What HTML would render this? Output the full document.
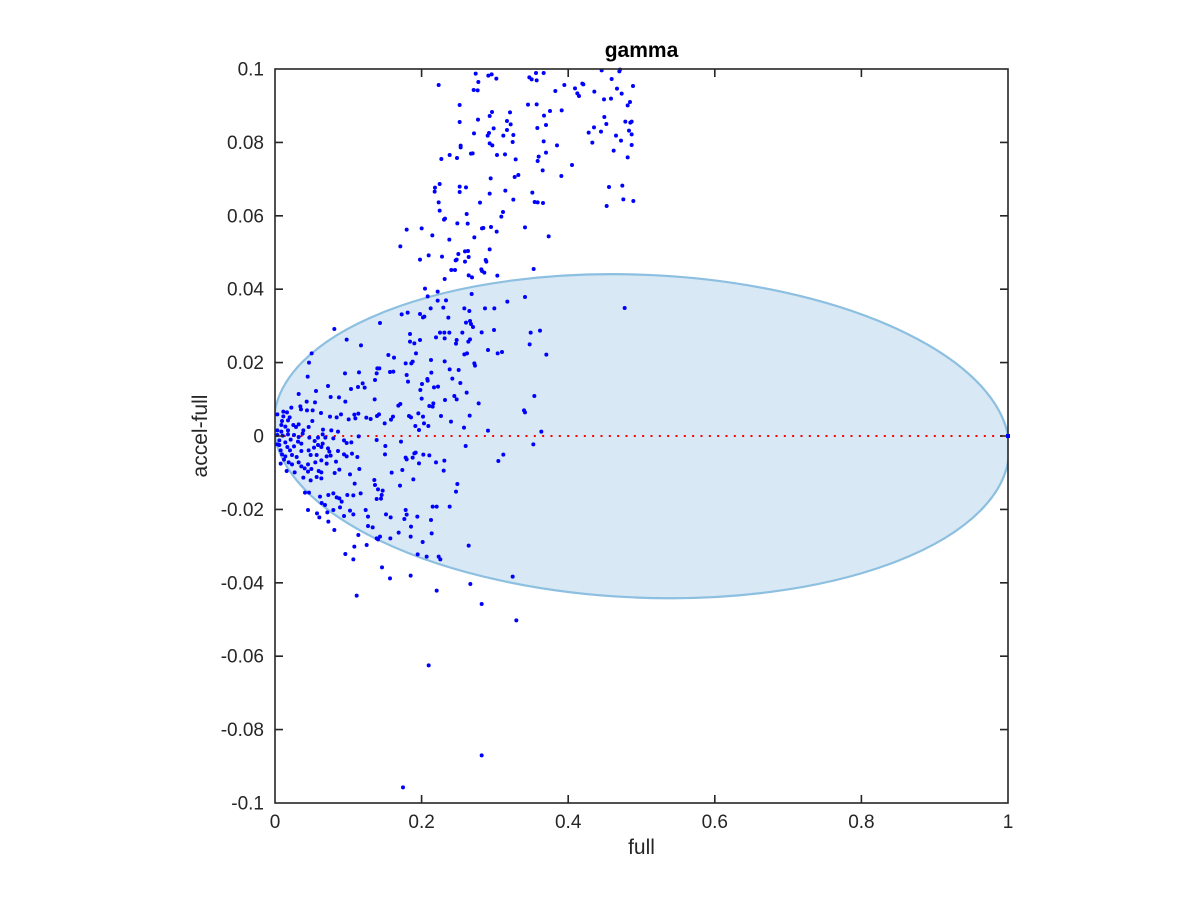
<!DOCTYPE html>
<html><head><meta charset="utf-8"><style>
html,body{margin:0;padding:0;background:#fff;}
svg{display:block;}
text{font-family:"Liberation Sans",Arial,sans-serif;fill:#262626;}
</style></head><body>
<svg width="1200" height="900" viewBox="0 0 1200 900" xmlns="http://www.w3.org/2000/svg">
<defs><clipPath id="ax"><rect x="275" y="69" width="733" height="734"/></clipPath></defs>
<rect width="1200" height="900" fill="#fff"/>
<g clip-path="url(#ax)">
<ellipse cx="641.5" cy="436.2" rx="368" ry="161.4" transform="rotate(2.46 641.5 436.2)" fill="#d8e8f4" stroke="#8cbfe0" stroke-width="2.2"/>
<line x1="275.5" y1="436" x2="1008" y2="436" stroke="#ff0000" stroke-width="2" stroke-dasharray="2 6.333"/>
</g>
<g fill="none" stroke="#0000ff" stroke-width="12" stroke-linecap="round">
<path transform="translate(240,40) scale(0.33333)" d="M596 135h0M707 101h0M715 126h0M745 107h0M755 103h0M769 116h0M868 112h0M875 118h0M890 121h0M888 99h0M911 99h0M1085 91h0M1138 94h0M1140 89h0M1115 117h0M1131 146h0M1145 161h0M1179 138h0M1063 155h0M1030 133h0M1027 131h0M1005 145h0M1012 160h0M1017 168h0M973 135h0M946 153h0M701 150h0M713 151h0M659 195h0M1092 178h0M1113 176h0M1170 186h0M1163 196h0M864 194h0M890 193h0M930 213h0M912 227h0M918 255h0M892 264h0M965 211h0M756 216h0M749 228h0M810 217h0M801 243h0M812 253h0M761 265h0M747 279h0M743 287h0M714 239h0M659 246h0M702 280h0M820 285h0M801 270h0M818 306h0M790 287h0M749 310h0M757 316h0M911 304h0M951 316h0M918 338h0M896 350h0M893 363h0M771 345h0M795 343h0M827 358h0M693 341h0M698 340h0M629 345h0M651 354h0M604 357h0M662 317h0M662 322h0M1093 231h0M1099 252h0M1156 245h0M1175 245h0M1171 248h0M1175 283h0M1167 272h0M1046 278h0M1083 275h0M1062 262h0M1128 287h0M1143 302h0M1057 308h0M1175 315h0M1121 332h0M1163 352h0M996 375h0M908 391h0M964 408h0M824 411h0M835 405h0M752 415h0M659 440h0M678 442h0M599 432h0M585 443h0M584 455h0M596 487h0M599 512h0M615 536h0M612 539h0M659 456h0M720 488h0M749 461h0M796 452h0M820 479h0M877 458h0M884 486h0M893 487h0M909 489h0M1107 441h0M1147 437h0M1100 498h0M1150 478h0M1180 483h0M680 522h0M683 551h0M652 550h0M628 599h0M726 565h0M730 564h0M753 561h0M784 530h0M789 516h0M770 575h0M703 592h0M855 562h0M926 589h0M500 569h0M545 565h0M577 586h0M481 619h0M540 659h0M566 646h0M606 650h0M655 642h0M650 659h0M647 661h0M675 634h0M684 633h0M686 651h0M675 665h0M737 660h0M739 665h0M749 628h0M724 688h0M726 693h0M733 698h0M614 717h0M634 690h0M645 690h0M686 706h0M696 712h0M772 707h0M881 687h0M555 746h0M563 769h0M593 755h0M695 762h0M855 771h0"/>
<path transform="translate(240,260) scale(0.33333)" d="M593 122h0M618 121h0M572 145h0M610 143h0M540 162h0M553 170h0M549 172h0M485 163h0M503 158h0M625 173h0M673 145h0M688 153h0M735 145h0M763 145h0M802 125h0M420 189h0M690 183h0M693 192h0M699 201h0M678 188h0M725 217h0M600 218h0M613 218h0M628 218h0M510 222h0M588 232h0M614 235h0M650 240h0M648 251h0M667 218h0M690 238h0M685 245h0M283 207h0M320 239h0M363 256h0M510 245h0M523 250h0M540 240h0M528 280h0M445 285h0M462 293h0M573 300h0M614 304h0M673 283h0M681 280h0M703 310h0M705 317h0M744 270h0M773 280h0M786 276h0M762 210h0M872 218h0M869 253h0M883 408h0M852 451h0M855 457h0M215 280h0M207 308h0M203 350h0M497 310h0M514 310h0M518 305h0M500 345h0M504 365h0M412 325h0M418 325h0M450 336h0M405 360h0M410 340h0M357 337h0M315 340h0M368 370h0M460 335h0M546 372h0M562 357h0M563 362h0M574 338h0M582 382h0M594 380h0M541 390h0M545 416h0M580 430h0M578 440h0M568 438h0M615 420h0M637 356h0M643 408h0M650 418h0M656 330h0M661 369h0M629 328h0M680 398h0M689 467h0M744 512h0M716 430h0M535 460h0M507 468h0M513 472h0M549 470h0M552 490h0M565 498h0M475 437h0M481 432h0M459 470h0M453 479h0M434 490h0M417 463h0M404 418h0M411 468h0M633 485h0M603 468h0M526 498h0M537 510h0M672 503h0M392 477h0"/>
<path transform="translate(240,420) scale(0.33333)" d="M410 60h0M436 78h0M435 103h0M483 65h0M497 113h0M500 118h0M523 100h0M527 98h0M518 113h0M537 130h0M550 104h0M568 106h0M588 127h0M611 152h0M613 122h0M677 78h0M652 192h0M648 215h0M775 123h0M790 104h0M880 73h0M403 180h0M405 195h0M414 208h0M428 212h0M425 225h0M410 237h0M423 236h0M455 158h0M480 197h0M487 150h0M520 178h0M497 270h0M500 284h0M493 297h0M513 320h0M532 290h0M548 366h0M573 300h0M575 340h0M578 260h0M590 260h0M629 260h0M438 283h0M452 292h0M476 338h0M512 350h0M451 355h0M420 350h0M414 358h0M384 290h0M384 318h0M398 322h0M410 355h0M380 375h0M355 345h0M343 380h0M426 442h0M450 475h0M512 467h0M533 403h0M560 410h0M596 410h0M601 418h0M686 377h0M691 492h0M818 470h0M590 512h0M350 527h0M340 418h0M316 402h0M195 218h0M207 218h0M204 270h0M238 292h0M231 280h0M265 305h0M283 330h0M262 277h0M245 249h0M255 255h0M280 270h0M300 262h0M312 288h0M330 272h0M340 283h0M322 225h0M280 220h0M265 225h0M290 232h0M298 235h0M240 230h0M305 245h0M340 226h0M362 220h0M377 270h0"/>
<path transform="translate(268,385) scale(0.33333)" d="M180 3h0M249 12h0M270 6h0M290 8h0M144 18h0M92 27h0M188 36h0M213 37h0M116 50h0M141 52h0M232 50h0M70 68h0M97 64h0M99 73h0M117 76h0M134 76h0M159 84h0M186 95h0M206 97h0M219 88h0M242 103h0M259 89h0M271 86h0M262 100h0M295 98h0M46 80h0M57 82h0M28 88h0M46 94h0M65 97h0M60 106h0M42 108h0M133 108h0M92 118h0M40 120h0M52 125h0M76 120h0M84 126h0M106 136h0M104 146h0M122 126h0M165 134h0M190 136h0M210 140h0M28 136h0M40 140h0M60 136h0M28 150h0M44 152h0M60 148h0M78 150h0M92 156h0M124 158h0M150 158h0M164 148h0M172 158h0M196 160h0M228 166h0M250 172h0M272 154h0M34 166h0M52 172h0M68 164h0M90 170h0M100 176h0M140 168h0M150 180h0M160 186h0M138 188h0M164 176h0M180 190h0M184 200h0M210 198h0M236 174h0M38 196h0M58 186h0M66 196h0M78 184h0M42 208h0M52 214h0M72 210h0M86 216h0M100 198h0M122 196h0M128 210h0M146 210h0M176 214h0M188 212h0M228 208h0M236 214h0M252 206h0M268 216h0M48 224h0M62 232h0M72 238h0M92 232h0M100 244h0M120 238h0M142 232h0M160 226h0M176 236h0M204 230h0M214 254h0M38 236h0M56 258h0M80 262h0M110 250h0M130 252h0M120 260h0M152 258h0M160 262h0M200 264h0M246 268h0M274 252h0M106 278h0M146 276h0M128 286h0M160 280h0M260 296h0M28 178h0M34 180h0"/>
<path transform="translate(530,280) scale(0.33333)" d="M284 84h0M30 152h0M49 224h0M34 455h0"/>
<path transform="translate(240,600) scale(0.33333)" d="M725 12h0M829 61h0M566 196h0M725 466h0M489 562h0"/>
</g>
<g stroke="#262626" stroke-width="1.6" fill="none">
<rect x="275" y="69" width="733" height="734"/>
<path d="M421.6 803v-8M568.2 803v-8M714.8 803v-8M861.4 803v-8M421.6 69v8M568.2 69v8M714.8 69v8M861.4 69v8
M275 142.4h8M275 215.8h8M275 289.2h8M275 362.6h8M275 436h8M275 509.4h8M275 582.8h8M275 656.2h8M275 729.6h8
M1008 142.4h-8M1008 215.8h-8M1008 289.2h-8M1008 362.6h-8M1008 436h-8M1008 509.4h-8M1008 582.8h-8M1008 656.2h-8M1008 729.6h-8"/>
</g>
<rect x="1006" y="434" width="4" height="4" fill="#0000ff"/>
<g font-size="19" text-anchor="end">
<text x="264" y="75.5">0.1</text>
<text x="264" y="148.9">0.08</text>
<text x="264" y="222.3">0.06</text>
<text x="264" y="295.7">0.04</text>
<text x="264" y="369.1">0.02</text>
<text x="264" y="442.5">0</text>
<text x="264" y="515.9">-0.02</text>
<text x="264" y="589.3">-0.04</text>
<text x="264" y="662.7">-0.06</text>
<text x="264" y="736.1">-0.08</text>
<text x="264" y="809.5">-0.1</text>
</g>
<g font-size="19" text-anchor="middle">
<text x="275" y="828">0</text>
<text x="421.6" y="828">0.2</text>
<text x="568.2" y="828">0.4</text>
<text x="714.8" y="828">0.6</text>
<text x="861.4" y="828">0.8</text>
<text x="1008" y="828">1</text>
</g>
<text x="641.5" y="854" font-size="21" text-anchor="middle">full</text>
<text transform="translate(207,436) rotate(-90)" font-size="21" text-anchor="middle">accel-full</text>
<text x="641.5" y="57" font-size="21" font-weight="bold" text-anchor="middle" style="fill:#000">gamma</text>
</svg>
</body></html>
